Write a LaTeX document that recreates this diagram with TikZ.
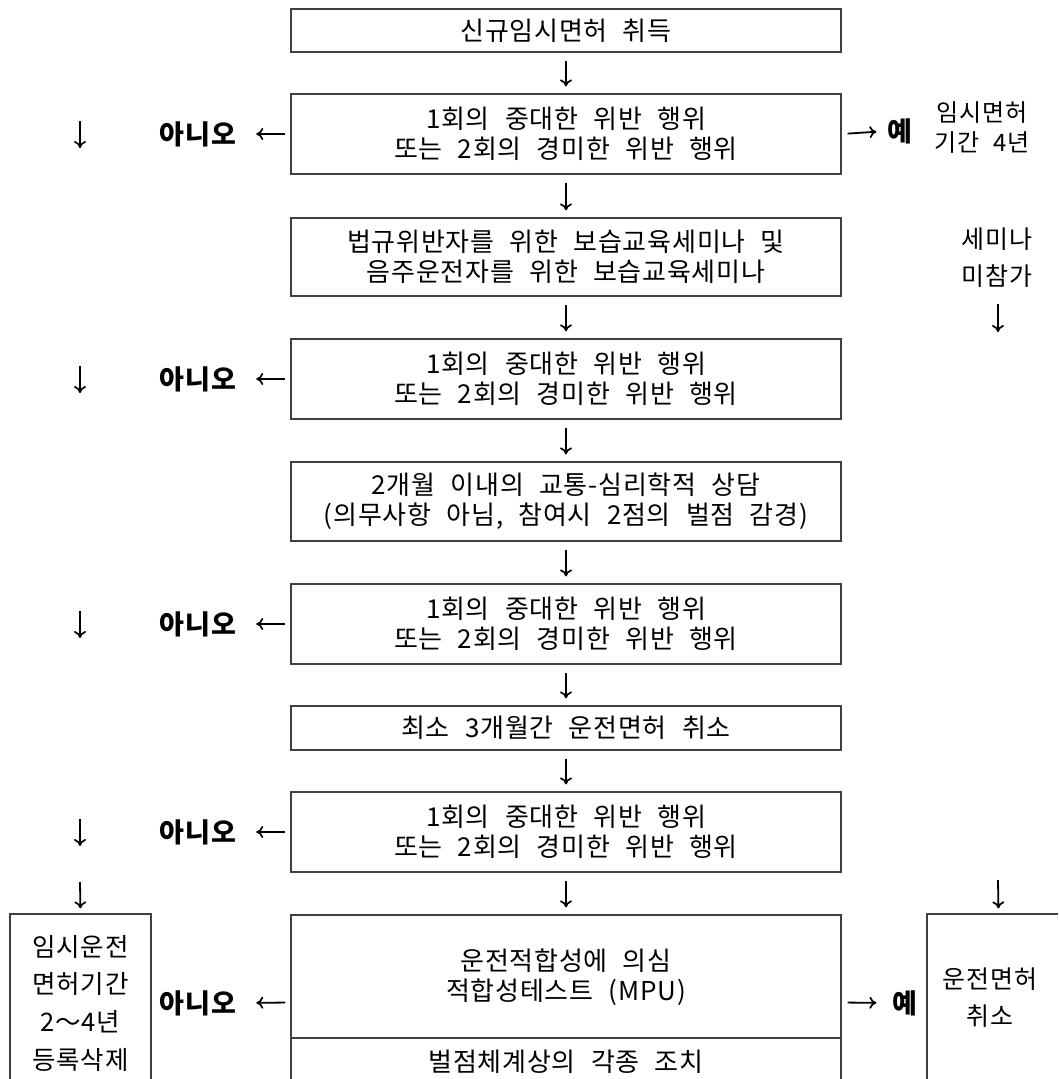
\documentclass[tikz,border=0pt]{standalone}
\usepackage{fontspec}
\setmainfont{Noto Sans CJK KR}[WordSpace=2.3, LetterSpace=3]
\usetikzlibrary{arrows.meta}
\begin{document}
\begin{tikzpicture}[x=1pt,y=-1pt,
  box/.style={draw=black!75, line width=1.2pt, minimum width=550pt, inner sep=0pt, align=center, font=\fontsize{26}{30}\selectfont},
  sidebox/.style={draw=black!75, line width=1.2pt, inner sep=0pt},
  arr/.style={-{Computer Modern Rightarrow[length=7pt,width=12pt,line width=1.7pt]}, line width=1.8pt},
  lbl/.style={inner sep=0pt, align=center, font=\fontsize{26}{30}\selectfont},
  yn/.style={inner sep=0pt, font=\fontsize{27}{30}\selectfont\bfseries}]
\useasboundingbox (0,0) rectangle (1058,1079);
\clip (0,0) rectangle (1058,1079);
% main column
\node[box, minimum height=43pt] (b1) at (566,30.5) {신규임시면허 취득};
\node[box, minimum height=80pt] (b2) at (566,134) {1회의 중대한 위반 행위\\또는 2회의 경미한 위반 행위};
\node[box, minimum height=78pt] (b3) at (566,257) {법규위반자를 위한 보습교육세미나 및\\음주운전자를 위한 보습교육세미나};
\node[box, minimum height=80pt] (b4) at (566,379) {1회의 중대한 위반 행위\\또는 2회의 경미한 위반 행위};
\node[box, minimum height=79pt] (b5) at (566,501.5) {2개월 이내의 교통-심리학적 상담\\(의무사항 아님, 참여시 2점의 벌점 감경)};
\node[box, minimum height=80pt] (b6) at (566,624) {1회의 중대한 위반 행위\\또는 2회의 경미한 위반 행위};
\node[box, minimum height=44pt] (b7) at (566,728) {최소 3개월간 운전면허 취소};
\node[box, minimum height=80pt] (b8) at (566,832) {1회의 중대한 위반 행위\\또는 2회의 경미한 위반 행위};
\node[box, minimum height=175pt] (b9) at (566,1002.5) {};
\node[lbl] (b9a) at (566,977) {운전적합성에 의심\\적합성테스트 (MPU)};
\node[lbl] (b9b) at (566,1062) {벌점체계상의 각종 조치};
\coordinate (d9) at (566,1038);
\draw[draw=black!75, line width=1.2pt] (b9.west |- d9) -- (b9.east |- d9);
\foreach \a/\b in {b1/b2,b2/b3,b3/b4,b4/b5,b5/b6,b6/b7,b7/b8,b8/b9}
  \draw[arr, shorten <=8pt, shorten >=7pt] (\a) -- (\b);
% left side
\foreach \n/\y in {2/134,4/379,6/624,8/832}{
  \node[yn] (n\n) at (198,\y) {아니오};
  \draw[arr, shorten <=5pt, shorten >=20pt] (b\n.west) -- (n\n.east);
  \coordinate (l\n a) at (80,\y-13);
  \coordinate (l\n b) at (80,\y+14);
  \draw[arr] (l\n a) -- (l\n b);
}
\node[sidebox, minimum width=141pt, minimum height=176pt] (lb) at (80.5,1002) {};
\node[lbl, font=\fontsize{25.5}{37.7}\selectfont] (lbt) at (80.5,1003) {임시운전\\면허기간\\2～4년\\등록삭제};
\coordinate (l9a) at (80,882);
\draw[arr, shorten >=5pt] (l9a) -- (lb.north);
\node[yn] (n9) at (198,1003) {아니오};
\draw[arr, shorten <=5pt, shorten >=20pt] (b9.west) -- (n9.east);
% right side
\node[yn] (y2) at (900,131) {예};
\draw[arr, shorten <=6pt, shorten >=11pt] (b2.east) -- (y2.west);
\node[lbl, font=\fontsize{24}{30}\selectfont] (r2) at (982,128) {임시면허\\기간 4년};
\node[lbl, font=\fontsize{25}{37}\selectfont] (semi) at (997,258) {세미나\\미참가};
\coordinate (s1) at (998,304);
\coordinate (s2) at (998,332);
\draw[arr] (s1) -- (s2);
\node[sidebox, minimum width=143pt, minimum height=176pt] (rb) at (998.5,1002) {};
\node[lbl, font=\fontsize{25}{37}\selectfont] (rbt) at (990,998) {운전면허\\취소};
\coordinate (r9a) at (998,880);
\draw[arr, shorten >=5pt] (r9a) -- (rb.north);
\node[yn] (y9) at (905,1003) {예};
\draw[arr, shorten <=6pt, shorten >=16pt] (b9.east) -- (y9.west);
\end{tikzpicture}
\end{document}
